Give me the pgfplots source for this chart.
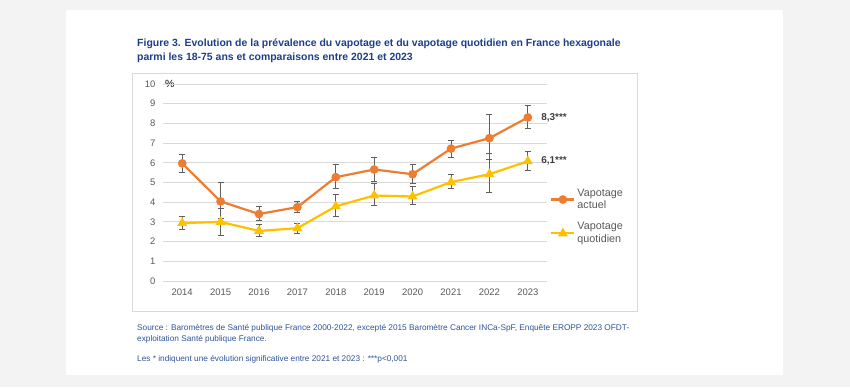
\documentclass[border=0pt]{standalone}
\usepackage{fontspec}
\setmainfont{Liberation Sans}
\usepackage{pgfplots}
\pgfplotsset{compat=1.18}
\definecolor{orangeS}{HTML}{ED7D31}
\definecolor{yellowS}{HTML}{FFC000}
\definecolor{errc}{HTML}{5F5F5F}
\definecolor{gridc}{HTML}{D9D9D9}
\definecolor{framec}{HTML}{D9D9D9}
\definecolor{bgc}{HTML}{F3F3F3}
\definecolor{titlec}{HTML}{1C3F8C}
\definecolor{srcc}{HTML}{2F5597}
\definecolor{labc}{HTML}{595959}
\definecolor{annc}{HTML}{404040}
\begin{document}
\begin{tikzpicture}[x=1bp,y=1bp]
\useasboundingbox (0,0) rectangle (850,387);
\fill[bgc] (0,0) rectangle (850,387);
\fill[white] (66,12) rectangle (783,377);
\draw[framec, line width=0.8bp] (132,76) rectangle (637,314);
\node[anchor=base west, align=left, inner sep=0, text=titlec,
  font=\bfseries\fontsize{10.5}{14}\selectfont] at (137,327)
  {Figure 3. Evolution de la prévalence du vapotage et du vapotage quotidien en France hexagonale\\
   parmi les 18-75 ans et comparaisons entre 2021 et 2023};
\node[anchor=base west, align=left, inner sep=0, text=srcc,
  font=\fontsize{8.3}{11}\selectfont] at (137,46)
  {Source : Baromètres de Santé publique France 2000-2022, excepté 2015 Baromètre Cancer INCa-SpF, Enquête EROPP 2023 OFDT-\\
   exploitation Santé publique France.};
\node[anchor=base west, inner sep=0, text=srcc,
  font=\fontsize{8.3}{11}\selectfont] at (137,26)
  {Les * indiquent une évolution significative entre 2021 et 2023 : ***p<0,001};
\node[anchor=west, inner sep=0, text=black, font=\fontsize{10.5}{12}\selectfont] at (165,303) {\%};
\begin{axis}[
  at={(163bp,106bp)}, anchor=south west,
  scale only axis, width=384bp, height=197bp,
  xmin=-0.5, xmax=9.5, ymin=0, ymax=10,
  xtick={0,...,9},
  xticklabels={2014,2015,2016,2017,2018,2019,2020,2021,2022,2023},
  ytick={0,1,...,10},
  /pgf/number format/assume math mode=true,
  ymajorgrids, grid style={gridc, line width=0.8bp},
  axis line style={draw=none},
  major tick length=0pt,
  tick label style={text=labc, font=\fontsize{9.5}{11}\selectfont},
  yticklabel style={xshift=-4bp},
  xticklabel style={yshift=-4bp},
  clip=false,
  legend style={draw=none, fill=none, at={(1.008,0.48)}, anchor=north west,
    cells={anchor=west, align=left}, row sep=8bp,
    font=\fontsize{10.8}{13}\selectfont, text=labc, inner sep=0pt},
  legend image code/.code={\draw[mark repeat=2,mark phase=2] plot coordinates {(0bp,0bp)(11.5bp,0bp)(23bp,0bp)};},
]
\addplot[orangeS, line width=2.2bp, mark=*, mark size=3.2bp, mark options={solid, fill=orangeS, draw=orangeS},
  error bars/.cd, y dir=both, y explicit,
  error bar style={errc, line width=0.8bp},
  error mark options={rotate=90, errc, mark size=3bp, line width=0.8bp}]
coordinates {
 (0,5.97) += (0,0.48) -= (0,0.47)
 (1,4.04) += (0,0.99) -= (0,0.84)
 (2,3.40) += (0,0.37) -= (0,0.33)
 (3,3.75) += (0,0.29) -= (0,0.25)
 (4,5.27) += (0,0.64) -= (0,0.57)
 (5,5.66) += (0,0.62) -= (0,0.61)
 (6,5.42) += (0,0.50) -= (0,0.49)
 (7,6.72) += (0,0.42) -= (0,0.44)
 (8,7.25) += (0,1.22) -= (0,1.10)
 (9,8.30) += (0,0.59) -= (0,0.54)
};
\addlegendentry{Vapotage\\actuel}
\addplot[yellowS, line width=2.2bp, mark=triangle*, mark size=3.6bp, mark options={solid, fill=yellowS, draw=yellowS},
  error bars/.cd, y dir=both, y explicit,
  error bar style={errc, line width=0.8bp},
  error mark options={rotate=90, errc, mark size=3bp, line width=0.8bp}]
coordinates {
 (0,2.94) += (0,0.36) -= (0,0.34)
 (1,3.00) += (0,0.70) -= (0,0.71)
 (2,2.54) += (0,0.34) -= (0,0.27)
 (3,2.68) += (0,0.26) -= (0,0.24)
 (4,3.79) += (0,0.59) -= (0,0.49)
 (5,4.34) += (0,0.59) -= (0,0.50)
 (6,4.29) += (0,0.51) -= (0,0.42)
 (7,5.02) += (0,0.38) -= (0,0.32)
 (8,5.42) += (0,1.05) -= (0,0.91)
 (9,6.08) += (0,0.49) -= (0,0.48)
};
\addlegendentry{Vapotage\\quotidien}
\node[anchor=west, text=annc, font=\bfseries\fontsize{10}{12}\selectfont, xshift=10bp] at (axis cs:9,8.3) {8,3***};
\node[anchor=west, text=annc, font=\bfseries\fontsize{10}{12}\selectfont, xshift=10bp] at (axis cs:9,6.08) {6,1***};
\end{axis}
\end{tikzpicture}
\end{document}
